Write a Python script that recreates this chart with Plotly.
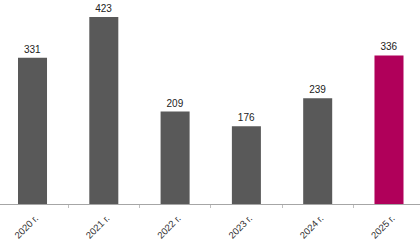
import plotly.graph_objects as go

categories = ["2020 г.", "2021 г.", "2022 г.", "2023 г.", "2024 г.", "2025 г."]
values = [331, 423, 209, 176, 239, 336]
colors = ["#595959"] * 5 + ["#B0005A"]

fig = go.Figure(go.Bar(
    x=categories, y=values,
    marker=dict(color=colors, line=dict(width=0)),
    text=[str(v) for v in values],
    textposition="outside",
    textfont=dict(family="Liberation Sans, Arial", size=10, color="#222222"),
    cliponaxis=False,
))
fig.update_layout(
    width=420, height=240,
    margin=dict(l=0, r=0, t=0, b=36),
    paper_bgcolor="white", plot_bgcolor="white",
    bargap=0.593,
    showlegend=False,
)
fig.update_xaxes(
    range=[-0.456, 5.435],
    showline=True, linecolor="#A6A6A6", linewidth=1,
    ticks="outside", tickson="boundaries", ticklen=3, tickcolor="#BFBFBF",
    tickangle=-45,
    ticklabelstandoff=4, ticklabelshift=3,
    tickfont=dict(family="Liberation Sans, Arial", size=9.5, color="#333333"),
    showgrid=False,
)
fig.update_yaxes(range=[0, 461.5], visible=False, showgrid=False)
fig.write_html("out.html")
